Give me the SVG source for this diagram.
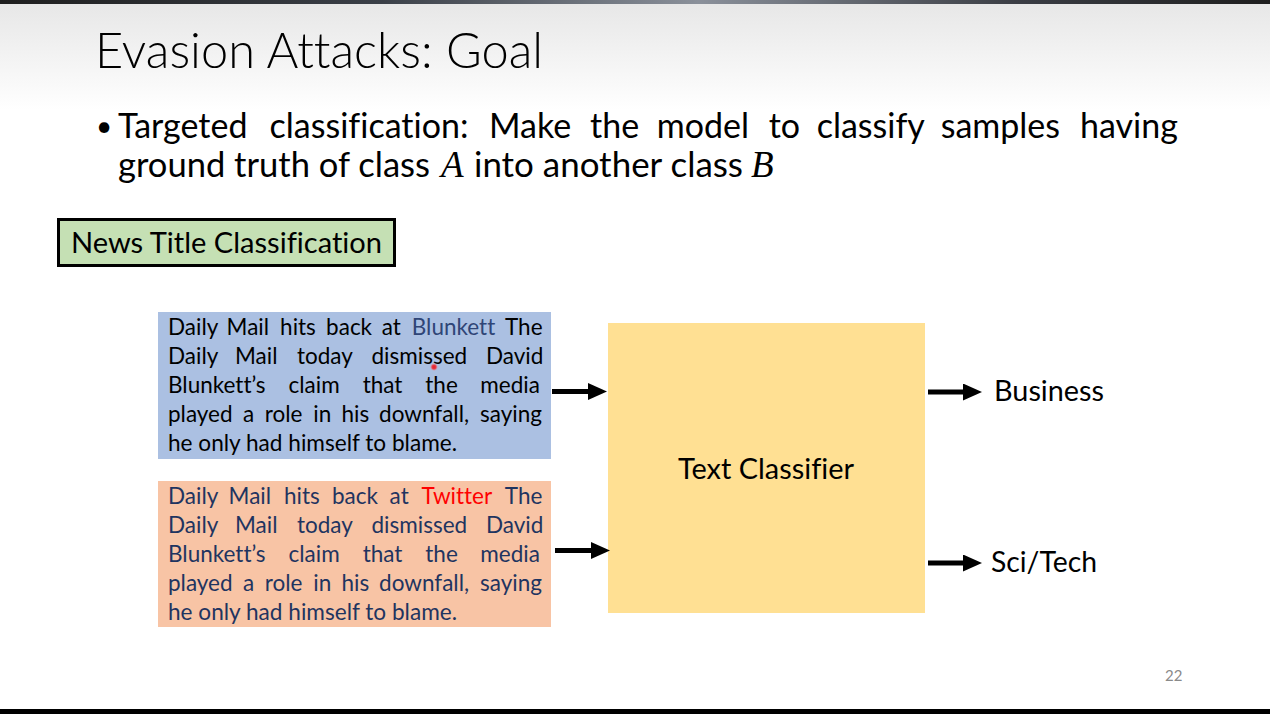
<svg xmlns="http://www.w3.org/2000/svg" width="1270" height="714" viewBox="0 0 1270 714">
  <defs>
    <linearGradient id="bgGrad" x1="0" y1="0" x2="0" y2="1">
      <stop offset="0" stop-color="#e6e6e6"/>
      <stop offset="1" stop-color="#ffffff"/>
    </linearGradient>
    <linearGradient id="topBar" x1="0" y1="0" x2="1" y2="0">
      <stop offset="0" stop-color="#1e1e1e"/>
      <stop offset="0.3" stop-color="#3a3f47"/>
      <stop offset="0.55" stop-color="#8a909a"/>
      <stop offset="0.8" stop-color="#3a3d44"/>
      <stop offset="1" stop-color="#1e1e1e"/>
    </linearGradient>
    <marker id="arrowHead" markerUnits="userSpaceOnUse" markerWidth="20" markerHeight="18" refX="9" refY="8.5" orient="auto">
      <path d="M0,0 L19,8.5 L0,17 Z" fill="#000"/>
    </marker>
    <radialGradient id="laser">
      <stop offset="0" stop-color="#e0202a"/>
      <stop offset="0.5" stop-color="#e83a44"/>
      <stop offset="1" stop-color="#f08a90" stop-opacity="0"/>
    </radialGradient>
  </defs>
  <style>
    .sans { font-family: Lato, "Open Sans", "Liberation Sans", sans-serif; font-variant-ligatures: none; font-feature-settings: "liga" 0, "clig" 0; }
    .title { font-size: 50px; font-weight: 300; fill: #000; }
    .bullet { font-size: 34px; fill: #000; }
    .dot { font-size: 28px; fill: #000; }
    .math { font-family: "Liberation Serif", "DejaVu Serif", serif; font-style: italic; font-size: 37px; fill: #000; }
    .body { font-size: 22.5px; }
    .label { font-size: 29px; fill: #000; }
    .conn { stroke: #000; stroke-width: 5; fill: none; marker-end: url(#arrowHead); }
  </style>

  <!-- background -->
  <rect x="0" y="0" width="1270" height="714" fill="#ffffff"/>
  <rect x="0" y="0" width="1270" height="110" fill="url(#bgGrad)"/>
  <rect x="0" y="0" width="1270" height="4" fill="url(#topBar)"/>
  <rect x="0" y="709" width="1270" height="5" fill="#000"/>

  <!-- title -->
  <text id="title" class="sans title" x="95" y="68" textLength="448" lengthAdjust="spacingAndGlyphs">Evasion Attacks: Goal</text>

  <!-- bullet -->
  <g id="bullet-text">
    <text class="sans dot" x="96" y="136">•</text>
    <text class="sans bullet" y="138">
      <tspan x="118">Targeted</tspan>
      <tspan x="269.6">classification:</tspan>
      <tspan x="489">Make</tspan>
      <tspan x="590">the</tspan>
      <tspan x="656.7">model</tspan>
      <tspan x="768.7">to</tspan>
      <tspan x="816.7">classify</tspan>
      <tspan x="940.7">samples</tspan>
      <tspan x="1080">having</tspan>
    </text>
    <text class="sans bullet" x="118" y="177" textLength="312" lengthAdjust="spacingAndGlyphs">ground truth of class</text>
    <text class="math" x="441" y="177">A</text>
    <text class="sans bullet" x="474" y="177" textLength="269" lengthAdjust="spacingAndGlyphs">into another class</text>
    <text class="math" x="751" y="177">B</text>
  </g>

  <!-- News Title Classification label -->
  <g id="news-label">
    <rect x="58.5" y="219.5" width="336" height="46" fill="#c5e0b4" stroke="#000" stroke-width="3"/>
    <text class="sans label" x="71" y="253" textLength="311" lengthAdjust="spacingAndGlyphs">News Title Classification</text>
  </g>

  <!-- original sample -->
  <g id="sample-original">
    <rect x="158" y="312" width="393" height="147" fill="#abc0e2"/>
    <text class="sans body" fill="#000" y="335">
      <tspan x="168">Daily</tspan>
      <tspan x="226.6">Mail</tspan>
      <tspan x="280.1">hits</tspan>
      <tspan x="326.1">back</tspan>
      <tspan x="381.8">at</tspan>
      <tspan x="411.8" fill="#2f4577">Blunkett</tspan>
      <tspan x="505">The</tspan>
    </text>
    <text class="sans body" fill="#000" y="364">
      <tspan x="168">Daily</tspan>
      <tspan x="235">Mail</tspan>
      <tspan x="296.9">today</tspan>
      <tspan x="371.5">dismissed</tspan>
      <tspan x="485.9">David</tspan>
    </text>
    <text class="sans body" fill="#000" y="393">
      <tspan x="168">Blunkett’s</tspan>
      <tspan x="288.5">claim</tspan>
      <tspan x="362.7">that</tspan>
      <tspan x="425.3">the</tspan>
      <tspan x="480.3">media</tspan>
    </text>
    <text class="sans body" fill="#000" y="422">
      <tspan x="168">played</tspan>
      <tspan x="243.1">a</tspan>
      <tspan x="264.7">role</tspan>
      <tspan x="313.3">in</tspan>
      <tspan x="341.5">his</tspan>
      <tspan x="379.1">downfall,</tspan>
      <tspan x="480">saying</tspan>
    </text>
    <text class="sans body" fill="#000" x="168" y="451" textLength="289" lengthAdjust="spacingAndGlyphs">he only had himself to blame.</text>
  </g>

  <!-- laser pointer dot -->
  <circle cx="434" cy="367" r="4" fill="url(#laser)"/>

  <!-- adversarial sample -->
  <g id="sample-adversarial">
    <rect x="158" y="481" width="393" height="146" fill="#f8c4a5"/>
    <text class="sans body" fill="#1f3460" y="504">
      <tspan x="168">Daily</tspan>
      <tspan x="228.6">Mail</tspan>
      <tspan x="284">hits</tspan>
      <tspan x="332">back</tspan>
      <tspan x="389.6">at</tspan>
      <tspan x="421.6" fill="#ff0000">Twitter</tspan>
      <tspan x="504.8">The</tspan>
    </text>
    <text class="sans body" fill="#1f3460" y="533">
      <tspan x="168">Daily</tspan>
      <tspan x="235">Mail</tspan>
      <tspan x="296.9">today</tspan>
      <tspan x="371.5">dismissed</tspan>
      <tspan x="485.9">David</tspan>
    </text>
    <text class="sans body" fill="#1f3460" y="562">
      <tspan x="168">Blunkett’s</tspan>
      <tspan x="288.5">claim</tspan>
      <tspan x="362.7">that</tspan>
      <tspan x="425.3">the</tspan>
      <tspan x="480.3">media</tspan>
    </text>
    <text class="sans body" fill="#1f3460" y="591">
      <tspan x="168">played</tspan>
      <tspan x="243.1">a</tspan>
      <tspan x="264.7">role</tspan>
      <tspan x="313.3">in</tspan>
      <tspan x="341.5">his</tspan>
      <tspan x="379.1">downfall,</tspan>
      <tspan x="480">saying</tspan>
    </text>
    <text class="sans body" fill="#1f3460" x="168" y="620" textLength="289" lengthAdjust="spacingAndGlyphs">he only had himself to blame.</text>
  </g>

  <!-- classifier -->
  <g id="classifier">
    <rect x="608" y="323" width="317" height="290" fill="#ffe093"/>
    <text class="sans label" x="678" y="479" textLength="176" lengthAdjust="spacingAndGlyphs">Text Classifier</text>
  </g>

  <!-- outputs -->
  <g id="out-business">
    <text class="sans label" x="994" y="401" textLength="110" lengthAdjust="spacingAndGlyphs">Business</text>
  </g>
  <g id="out-scitech">
    <text class="sans label" x="991" y="572" textLength="106" lengthAdjust="spacingAndGlyphs">Sci/Tech</text>
  </g>

  <!-- connectors -->
  <g id="connectors">
    <line class="conn" x1="552" y1="391.5" x2="597" y2="391.5"/>
    <line class="conn" x1="555" y1="550.5" x2="600" y2="550.5"/>
    <line class="conn" x1="928" y1="392" x2="972" y2="392"/>
    <line class="conn" x1="928" y1="563" x2="972" y2="563"/>
  </g>

  <!-- page number -->
  <text id="page-number" class="sans" x="1165" y="681" font-size="15" fill="#8a8a8a">22</text>
</svg>
